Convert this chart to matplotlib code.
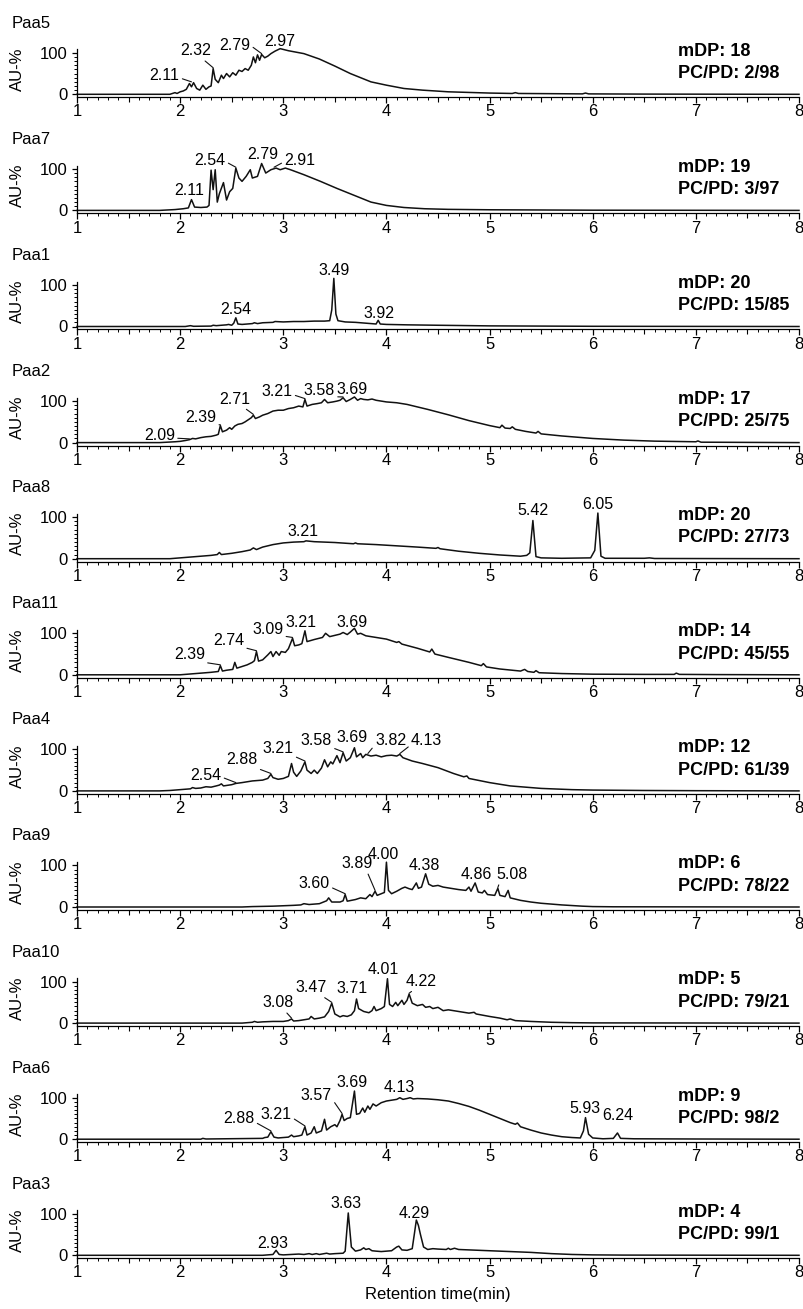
import matplotlib
matplotlib.use("Agg")
import matplotlib.pyplot as plt
from matplotlib.ticker import MultipleLocator, FixedLocator, NullFormatter

plt.rcParams['font.family'] = ['Liberation Sans', 'DejaVu Sans']

# ---------------- data ----------------
samples = ['Paa5', 'Paa7', 'Paa1', 'Paa2', 'Paa8', 'Paa11', 'Paa4', 'Paa9', 'Paa10', 'Paa6', 'Paa3']
mdp = [18, 19, 20, 17, 20, 14, 12, 6, 5, 9, 4]
pc_pd = ['2/98', '3/97', '15/85', '25/75', '27/73', '45/55', '61/39', '78/22', '79/21', '98/2', '99/1']

paa5_t = [1.0, 1.9, 1.95, 1.97, 2.0, 2.03, 2.06, 2.09, 2.11, 2.13, 2.16, 2.19, 2.22, 2.25, 2.28, 2.3, 2.32, 2.34, 2.37,
          2.4, 2.42, 2.45, 2.48, 2.51, 2.54, 2.57, 2.6, 2.63, 2.66, 2.69, 2.71, 2.73, 2.75, 2.77, 2.79, 2.82, 2.85, 2.88,
          2.92, 2.97, 3.05, 3.2, 3.35, 3.5, 3.65, 3.85, 4.0, 4.17, 4.35, 4.6, 4.8, 5.0, 5.22, 5.25, 5.28, 5.6, 5.9,
          5.93, 5.96, 6.5, 8.0]
paa5_au = [0, 0, 4, 2, 6, 8, 12, 26, 18, 28, 14, 10, 22, 12, 18, 20, 62, 36, 28, 46, 38, 50, 42, 52, 46, 58, 55, 62,
           58, 70, 90, 76, 95, 82, 96, 88, 92, 98, 104, 110, 105, 98, 85, 68, 50, 30, 22, 14, 10, 6, 4.5, 3, 2, 4, 2,
           1.5, 1, 3, 1, 0.5, 0]

paa7_t = [1.0, 1.8, 1.95, 2.03, 2.08, 2.11, 2.14, 2.2, 2.26, 2.28, 2.30, 2.32, 2.34, 2.36, 2.38, 2.42, 2.45, 2.48,
          2.51, 2.54, 2.57, 2.60, 2.64, 2.68, 2.70, 2.75, 2.79, 2.83, 2.88, 2.93, 2.97, 3.02, 3.07, 3.2, 3.36, 3.52,
          3.7, 3.85, 4.0, 4.17, 4.37, 4.6, 5.0, 5.5, 6.0, 8.0]
paa7_au = [0, 0, 2, 4, 6, 26, 8, 7, 8, 12, 97, 50, 98, 20, 40, 67, 25, 45, 53, 102, 78, 70, 82, 98, 78, 82, 113, 90,
           98, 102, 98, 102, 98, 86, 70, 53, 35, 20, 12, 7, 4, 2.5, 1.5, 1, 0.5, 0]

paa1_t = [1.0, 2.05, 2.1, 2.13, 2.3, 2.32, 2.35, 2.45, 2.47, 2.5, 2.52, 2.54, 2.56, 2.6, 2.7, 2.72, 2.75, 2.8, 2.9,
          2.92, 3.0, 3.1, 3.2, 3.3, 3.4, 3.45, 3.47, 3.49, 3.51, 3.53, 3.6, 3.7, 3.8, 3.9, 3.92, 3.94, 4.0, 4.2, 4.5,
          5.0, 5.5, 6.0, 8.0]
paa1_au = [0, 0, 2, 0.5, 1, 3, 2, 4, 5, 3, 8, 21, 6, 5, 7, 9, 7, 9, 10, 12, 11, 12, 12, 13, 13, 14, 40, 116, 30, 14,
           11, 10, 8, 6, 15, 6, 5, 4, 3, 1.5, 1, 0.5, 0]

paa2_t = [1.0, 1.8, 1.95, 2.0, 2.05, 2.09, 2.12, 2.15, 2.2, 2.25, 2.3, 2.35, 2.37, 2.39, 2.41, 2.45, 2.48, 2.5, 2.53,
          2.56, 2.6, 2.63, 2.66, 2.69, 2.71, 2.73, 2.77, 2.8, 2.85, 2.9, 2.95, 3.0, 3.05, 3.1, 3.15, 3.19, 3.21, 3.23,
          3.28, 3.33, 3.37, 3.4, 3.43, 3.48, 3.52, 3.55, 3.58, 3.61, 3.65, 3.69, 3.72, 3.75, 3.78, 3.82, 3.86, 3.9,
          4.0, 4.1, 4.2, 4.4, 4.6, 4.8, 5.0, 5.1, 5.12, 5.15, 5.2, 5.22, 5.25, 5.35, 5.45, 5.47, 5.5, 5.7, 6.0, 6.3,
          6.6, 7.0, 7.02, 7.05, 7.5, 8.0]
paa2_au = [0, 0, 2, 3, 5, 7, 10, 9, 12, 14, 15, 18, 20, 41, 26, 30, 36, 32, 40, 44, 46, 50, 55, 60, 66, 58, 62, 66,
           70, 76, 78, 78, 82, 84, 88, 86, 104, 88, 92, 94, 96, 104, 96, 98, 100, 102, 108, 99, 104, 110, 102, 106,
           104, 103, 105, 102, 98, 96, 92, 80, 67, 53, 41, 36, 42, 35, 34, 38, 32, 27, 23, 27, 21, 16, 10, 6, 3.5, 2,
           4, 1, 0.5, 0]

paa8_t = [1.0, 1.9, 2.0, 2.1, 2.2, 2.3, 2.36, 2.38, 2.4, 2.5, 2.6, 2.68, 2.71, 2.74, 2.8, 2.9, 3.0, 3.1, 3.2, 3.22,
          3.3, 3.5, 3.68, 3.7, 3.72, 3.9, 4.1, 4.3, 4.48, 4.5, 4.52, 4.7, 4.9, 5.1, 5.3, 5.36, 5.39, 5.42, 5.45, 5.5,
          5.7, 5.98, 6.02, 6.05, 6.08, 6.12, 6.5, 6.55, 6.6, 8.0]
paa8_au = [0, 0, 2, 4, 6, 8, 10, 15, 10, 13, 17, 21, 26, 22, 28, 34, 38, 40, 41, 43, 41, 39, 36, 38, 36, 34, 31, 28,
           25, 27, 24, 18, 13, 9, 6, 8, 14, 92, 5, 2, 1, 2, 20, 110, 6, 1, 1, 2, 0.5, 0]

paa11_t = [1.0, 2.0, 2.1, 2.2, 2.3, 2.37, 2.39, 2.41, 2.45, 2.51, 2.53, 2.55, 2.6, 2.65, 2.7, 2.72, 2.74, 2.76, 2.8,
           2.85, 2.88, 2.9, 2.93, 2.96, 2.98, 3.02, 3.05, 3.09, 3.11, 3.15, 3.18, 3.21, 3.23, 3.3, 3.38, 3.41, 3.45,
           3.5, 3.55, 3.58, 3.62, 3.65, 3.69, 3.72, 3.75, 3.8, 3.9, 4.0, 4.1, 4.12, 4.15, 4.3, 4.42, 4.44, 4.47, 4.6,
           4.8, 4.92, 4.94, 4.97, 5.1, 5.3, 5.34, 5.37, 5.43, 5.45, 5.48, 5.7, 6.0, 6.5, 6.79, 6.81, 6.84, 7.2, 8.0]
paa11_au = [0, 0, 2, 4, 6, 8, 22, 9, 11, 13, 30, 16, 20, 24, 30, 34, 56, 33, 36, 48, 56, 44, 56, 47, 56, 54, 63, 88,
            70, 72, 75, 106, 80, 85, 90, 100, 92, 95, 98, 102, 97, 103, 112, 98, 100, 94, 90, 86, 78, 80, 74, 64, 55,
            62, 50, 42, 30, 22, 27, 19, 14, 9, 13, 8, 6, 10, 5, 3, 1.5, 1, 1, 4, 1, 0.5, 0]

paa4_t = [1.0, 1.8, 1.9, 2.0, 2.1, 2.12, 2.15, 2.2, 2.25, 2.3, 2.35, 2.38, 2.4, 2.42, 2.5, 2.54, 2.6, 2.7, 2.8, 2.85,
          2.88, 2.9, 2.95, 3.0, 3.05, 3.08, 3.1, 3.13, 3.17, 3.21, 3.23, 3.27, 3.3, 3.33, 3.37, 3.4, 3.43, 3.46, 3.48,
          3.52, 3.55, 3.58, 3.61, 3.65, 3.69, 3.71, 3.75, 3.77, 3.8, 3.85, 3.9, 3.95, 4.0, 4.05, 4.1, 4.13, 4.16,
          4.25, 4.35, 4.5, 4.65, 4.75, 4.78, 4.8, 5.0, 5.2, 5.5, 5.8, 6.0, 6.5, 7.0, 8.0]
paa4_au = [0, 0, 1, 3, 5, 8, 6, 7, 10, 9, 12, 14, 17, 12, 15, 18, 20, 24, 26, 30, 40, 32, 28, 30, 35, 66, 45, 35, 48,
           70, 50, 42, 50, 42, 55, 75, 58, 70, 65, 85, 68, 92, 72, 80, 104, 82, 90, 80, 88, 84, 86, 82, 85, 86, 84,
           88, 80, 72, 66, 56, 42, 34, 36, 30, 20, 12, 6, 3, 2, 1, 0.5, 0]

paa9_t = [1.0, 2.6, 2.7, 2.9, 3.0, 3.1, 3.17, 3.2, 3.25, 3.35, 3.42, 3.44, 3.47, 3.55, 3.58, 3.6, 3.62, 3.7, 3.75,
          3.8, 3.84, 3.86, 3.89, 3.91, 3.95, 3.98, 4.0, 4.02, 4.05, 4.1, 4.15, 4.18, 4.22, 4.25, 4.29, 4.31, 4.34,
          4.38, 4.41, 4.45, 4.5, 4.55, 4.6, 4.7, 4.77, 4.8, 4.82, 4.86, 4.89, 4.93, 4.95, 4.98, 5.05, 5.08, 5.1, 5.15,
          5.18, 5.2, 5.3, 5.4, 5.5, 5.7, 5.9, 6.0, 6.2, 8.0]
paa9_au = [0, 0, 1, 2, 3, 4, 5, 8, 6, 8, 15, 22, 12, 12, 15, 30, 14, 18, 22, 20, 30, 25, 38, 28, 32, 35, 108, 40, 32,
           38, 45, 48, 44, 42, 58, 45, 48, 80, 55, 50, 52, 48, 46, 42, 40, 48, 38, 58, 36, 34, 40, 30, 28, 45, 28, 25,
           40, 22, 16, 12, 9, 5, 2, 1, 0.5, 0]

paa10_t = [1.0, 2.6, 2.7, 2.72, 2.75, 2.8, 2.9, 3.0, 3.05, 3.08, 3.1, 3.15, 3.2, 3.25, 3.27, 3.3, 3.35, 3.4, 3.44,
           3.47, 3.5, 3.55, 3.58, 3.62, 3.66, 3.69, 3.71, 3.73, 3.78, 3.83, 3.86, 3.88, 3.9, 3.95, 3.98, 4.01, 4.03,
           4.06, 4.09, 4.11, 4.15, 4.17, 4.2, 4.22, 4.25, 4.3, 4.35, 4.38, 4.42, 4.45, 4.5, 4.55, 4.6, 4.7, 4.8, 4.85,
           4.87, 5.0, 5.1, 5.17, 5.2, 5.25, 5.4, 5.6, 5.8, 6.0, 8.0]
paa10_au = [0, 0, 2, 4, 2, 3, 4, 4, 6, 10, 5, 6, 8, 10, 16, 10, 12, 15, 28, 48, 22, 15, 18, 16, 20, 30, 58, 35, 28,
            25, 30, 40, 30, 35, 40, 107, 45, 40, 50, 42, 55, 45, 55, 70, 48, 42, 45, 38, 40, 35, 38, 30, 32, 28, 24,
            26, 22, 16, 12, 8, 10, 6, 4, 2, 1, 0.5, 0]

paa6_t = [1.0, 2.2, 2.22, 2.25, 2.8, 2.82, 2.85, 2.88, 2.91, 2.95, 3.0, 3.05, 3.08, 3.1, 3.15, 3.18, 3.21, 3.23, 3.27,
          3.3, 3.32, 3.37, 3.4, 3.42, 3.46, 3.5, 3.52, 3.55, 3.57, 3.59, 3.62, 3.65, 3.69, 3.71, 3.74, 3.77, 3.79,
          3.82, 3.84, 3.87, 3.9, 3.95, 4.0, 4.05, 4.1, 4.13, 4.16, 4.2, 4.23, 4.26, 4.3, 4.4, 4.5, 4.6, 4.7, 4.8, 4.9,
          5.0, 5.1, 5.2, 5.25, 5.27, 5.3, 5.4, 5.5, 5.6, 5.7, 5.8, 5.88, 5.91, 5.93, 5.96, 6.0, 6.1, 6.2, 6.24, 6.27,
          6.4, 7.0, 8.0]
paa6_au = [0, 0, 2, 0.5, 2, 4, 5, 18, 5, 3, 4, 5, 10, 6, 8, 10, 30, 10, 15, 30, 15, 20, 48, 22, 30, 35, 30, 45, 60,
           45, 50, 52, 116, 60, 62, 75, 65, 80, 72, 85, 80, 88, 92, 94, 96, 100, 96, 98, 100, 97, 98, 97, 95, 92, 86,
           79, 70, 60, 50, 40, 36, 39, 30, 22, 15, 10, 6, 4, 3, 20, 52, 12, 3, 1, 2, 15, 2, 1, 0.5, 0]

paa3_t = [1.0, 2.8, 2.85, 2.9, 2.93, 2.96, 3.0, 3.15, 3.2, 3.25, 3.28, 3.32, 3.35, 3.42, 3.45, 3.5, 3.58, 3.6, 3.63,
          3.66, 3.7, 3.75, 3.78, 3.8, 3.83, 3.86, 3.9, 3.95, 4.0, 4.05, 4.1, 4.12, 4.15, 4.2, 4.25, 4.27, 4.29, 4.31,
          4.33, 4.36, 4.4, 4.45, 4.5, 4.58, 4.6, 4.62, 4.66, 4.7, 4.8, 5.0, 5.2, 5.4, 5.6, 5.8, 6.0, 6.3, 8.0]
paa3_au = [0, 0, 1, 2, 12, 2, 1, 3, 2, 4, 2, 4, 2, 5, 3, 4, 5, 10, 102, 20, 10, 13, 18, 14, 16, 11, 10, 9, 10, 11,
           20, 22, 13, 12, 16, 50, 85, 72, 50, 20, 14, 16, 15, 14, 17, 14, 17, 14, 13, 11, 9, 7, 4, 2, 1, 0.5, 0]

# labelled peak retention times (min)
paa5_peaks = [2.11, 2.32, 2.79, 2.97]
paa7_peaks = [2.11, 2.54, 2.79, 2.91]
paa1_peaks = [2.54, 3.49, 3.92]
paa2_peaks = [2.09, 2.39, 2.71, 3.21, 3.58, 3.69]
paa8_peaks = [3.21, 5.42, 6.05]
paa11_peaks = [2.39, 2.74, 3.09, 3.21, 3.69]
paa4_peaks = [2.54, 2.88, 3.21, 3.58, 3.69, 3.82, 4.13]
paa9_peaks = [3.60, 3.89, 4.00, 4.38, 4.86, 5.08]
paa10_peaks = [3.08, 3.47, 3.71, 4.01, 4.22]
paa6_peaks = [2.88, 3.21, 3.57, 3.69, 4.13, 5.93, 6.24]
paa3_peaks = [2.93, 3.63, 4.29]

traces = [(paa5_t, paa5_au), (paa7_t, paa7_au), (paa1_t, paa1_au), (paa2_t, paa2_au), (paa8_t, paa8_au),
          (paa11_t, paa11_au), (paa4_t, paa4_au), (paa9_t, paa9_au), (paa10_t, paa10_au), (paa6_t, paa6_au),
          (paa3_t, paa3_au)]
peaks = [paa5_peaks, paa7_peaks, paa1_peaks, paa2_peaks, paa8_peaks, paa11_peaks, paa4_peaks, paa9_peaks,
         paa10_peaks, paa6_peaks, paa3_peaks]

# ---------------- label layout (text position, leader start on text box) ----------------
label_layout = [
    [(1.85, 45, (1, 0.35)), (2.15, 105, (0.7, 0)), (2.53, 118, (1, 0.5)), (2.97, 128, None)],
    [(2.09, 48, None), (2.29, 121, (1, 0.4)), (2.80, 134, None), (3.16, 121, (0, 0.4))],
    [(2.54, 42, None), (3.49, 136, None), (3.93, 32, None)],
    [(1.80, 18, (1, 0.3)), (2.20, 61, (0.9, 0)), (2.53, 105, (0.75, 0)), (2.94, 123, (1, 0.3)),
     (3.35, 125, (0.9, 0.1)), (3.67, 127, None)],
    [(3.19, 66, None), (5.42, 115, None), (6.05, 130, None)],
    [(2.09, 49, (0.9, 0)), (2.47, 82, (0.9, 0.1)), (2.85, 109, (0.9, 0.1)), (3.17, 125, None), (3.67, 125, None)],
    [(2.25, 37, (1, 0.4)), (2.60, 75, (0.9, 0)), (2.95, 102, (0.9, 0.1)), (3.32, 122, (0.9, 0.1)),
     (3.67, 129, None), (4.04, 122, (0, 0.2)), (4.39, 122, (0, 0.2))],
    [(3.30, 56, (1, 0.3)), (3.72, 104, (0.8, 0)), (3.97, 126, None), (4.37, 100, None), (4.87, 78, None),
     (5.22, 78, (0.1, 0))],
    [(2.95, 49, (0.7, 0)), (3.27, 86, (0.8, 0)), (3.67, 83, None), (3.97, 128, None), (4.34, 101, (0.3, 0))],
    [(2.57, 49, (1, 0.3)), (2.93, 60, (1, 0.3)), (3.32, 105, (1, 0.3)), (3.67, 136, None), (4.12, 124, None),
     (5.92, 73, None), (6.24, 56, None)],
    [(2.90, 28, None), (3.61, 125, None), (4.27, 100, None)],
]

# ---------------- figure layout ----------------
W, H = 804, 1309
fig = plt.figure(figsize=(W / 100, H / 100), dpi=100)
AX_L, AX_R = 77, 799
Z0 = 94.3
STEP = 116.1
PXU = 0.415
YMIN, YMAX = -7, 140
FS = 12
FS_PEAK = 11.5


def fy(py):
    return 1 - py / H


for i, name in enumerate(samples):
    z = Z0 + STEP * i
    bot = z - YMIN * PXU
    top = z - YMAX * PXU
    ax = fig.add_axes([AX_L / W, fy(bot), (AX_R - AX_L) / W, (bot - top) / H])
    t, au = traces[i]
    ax.plot(t, au, color='#111111', lw=1.1, clip_on=False, solid_joinstyle='round')
    ax.set_xlim(1, 8)
    ax.set_ylim(YMIN, YMAX)
    ax.patch.set_visible(False)
    for s in ('top', 'right'):
        ax.spines[s].set_visible(False)
    ax.spines['left'].set_bounds(YMIN, 108)
    for s in ('left', 'bottom'):
        ax.spines[s].set_linewidth(0.9)
    ax.set_xticks(range(1, 9))
    ax.xaxis.set_minor_locator(MultipleLocator(0.1))
    ax.set_yticks([0, 100])
    ax.yaxis.set_minor_locator(FixedLocator([10, 20, 30, 40, 50, 60, 70, 80, 90]))
    ax.tick_params(axis='x', which='major', length=4.2, width=0.9, pad=1.0, labelsize=FS)
    ax.tick_params(axis='x', which='minor', length=2.2, width=0.7)
    ax.tick_params(axis='y', which='major', length=3.5, width=0.9, pad=3.5, labelsize=FS)
    ax.tick_params(axis='y', which='minor', length=2.0, width=0.7)
    sec = ax.secondary_xaxis('bottom')
    sec.set_xticks([1.5, 2.5, 3.5, 4.5, 5.5, 6.5, 7.5])
    sec.xaxis.set_major_formatter(NullFormatter())
    sec.tick_params(length=3.3, width=0.8)
    sec.spines['bottom'].set_visible(False)

    # peak labels
    for pt, (tx, ty, rp) in zip(peaks[i], label_layout[i]):
        near = [v for tt, v in zip(t, au) if abs(tt - pt) <= 0.021]
        apex = max(near) if near else 0
        txt = f'{pt:.2f}'
        if rp is None:
            ax.text(tx, ty, txt, ha='center', va='center', fontsize=FS_PEAK, clip_on=False)
        else:
            ax.annotate(txt, xy=(pt, apex + 2), xytext=(tx, ty), ha='center', va='center', fontsize=FS_PEAK,
                        annotation_clip=False,
                        arrowprops=dict(arrowstyle='-', color='#111111', lw=0.8, shrinkA=0, shrinkB=0,
                                        relpos=rp))

    ax.text(6.83, 104, f'mDP: {mdp[i]}', ha='left', va='center', fontsize=13, fontweight='bold')
    ax.text(6.83, 50, f'PC/PD: {pc_pd[i]}', ha='left', va='center', fontsize=13, fontweight='bold')

    fig.text(12 / W, fy(z - 71), name, ha='left', va='center', fontsize=FS)
    fig.text(17 / W, fy(z - 25), 'AU-%', ha='center', va='center', rotation=90, fontsize=FS)

fig.text((AX_L + AX_R) / 2 / W, fy(1295), 'Retention time(min)', ha='center', va='center', fontsize=FS)

fig.savefig('out.png', dpi=100)
